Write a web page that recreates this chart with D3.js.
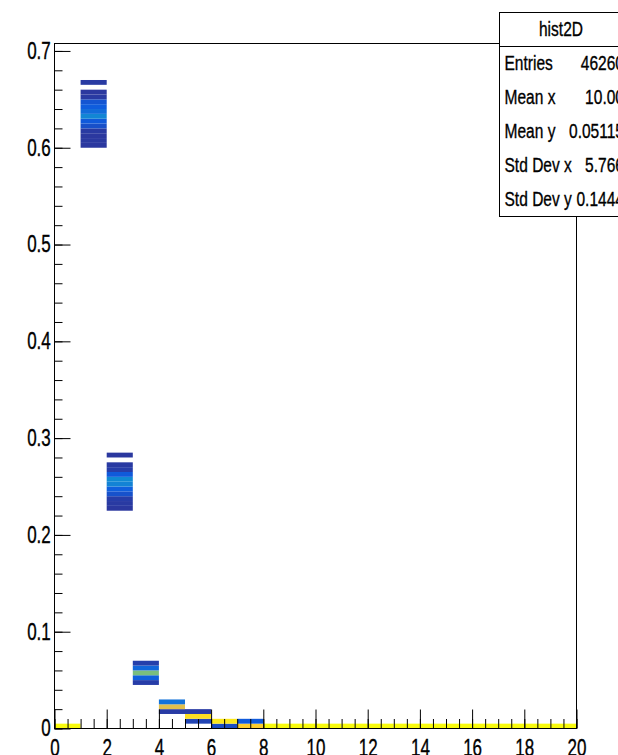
<!DOCTYPE html>
<html>
<head>
<meta charset="utf-8">
<script src="https://cdn.jsdelivr.net/npm/d3@7"></script>
<style>
  body { margin: 0; background: #fff; }
  svg { display: block; font-family: "Liberation Sans", Arial, sans-serif; }
  svg text { stroke: #000; stroke-width: 0.35px; }
</style>
</head>
<body>
<div id="chart"></div>
<script>
// x bins (lower edges), each 1 unit wide
const xLowEdges = [0, 1, 2, 3, 4, 5, 6, 7, 8, 9, 10, 11, 12, 13, 14, 15, 16, 17, 18, 19];
// filled y bins in each x column (lower edges, bin height 0.005) and their counts
const colYLow = [
  [0],
  [0.600, 0.605, 0.610, 0.615, 0.620, 0.625, 0.630, 0.635, 0.640, 0.645, 0.650, 0.655, 0.665],
  [0.225, 0.230, 0.235, 0.240, 0.245, 0.250, 0.255, 0.260, 0.265, 0.270, 0.280],
  [0.045, 0.050, 0.055, 0.060, 0.065],
  [0.015, 0.020, 0.025],
  [0.005, 0.010, 0.015],
  [0, 0.005],
  [0, 0.005],
  [0], [0], [0], [0], [0], [0], [0], [0], [0], [0], [0], [0]
];
const colCounts = [
  [2313],
  [80, 85, 80, 90, 220, 280, 620, 420, 300, 250, 90, 80, 95],
  [80, 90, 110, 230, 320, 600, 650, 280, 110, 90, 80],
  [110, 330, 1400, 380, 120],
  [100, 1830, 460],
  [150, 2150, 100],
  [200, 2200],
  [2050, 280],
  [2313], [2313], [2313], [2313], [2313], [2313], [2313], [2313], [2313], [2313], [2313], [2313]
];
const xBinWidth = 1;
const yBinWidth = 0.005;
const zMax = 2313;

const xTicks = [0, 2, 4, 6, 8, 10, 12, 14, 16, 18, 20];
const yTicks = [0, 0.1, 0.2, 0.3, 0.4, 0.5, 0.6, 0.7];
const yTickLabels = ["0", "0.1", "0.2", "0.3", "0.4", "0.5", "0.6", "0.7"];

const statTitle = "hist2D";
const statNames = ["Entries", "Mean x", "Mean y", "Std Dev x", "Std Dev y"];
const statValues = ["46260", "10.00", "0.05115", "5.766", "0.1444"];

// ROOT kBird palette
const birdStops = [0, 0.125, 0.25, 0.375, 0.5, 0.625, 0.75, 0.875, 1];
const birdColors = [
  [0.2082, 0.1664, 0.5293], [0.0592, 0.3599, 0.8684], [0.0780, 0.5041, 0.8385],
  [0.0232, 0.6419, 0.7914], [0.1802, 0.7178, 0.6425], [0.5301, 0.7492, 0.4662],
  [0.8186, 0.7328, 0.3499], [0.9956, 0.7862, 0.1968], [0.9764, 0.9832, 0.0539]
].map(c => d3.rgb(c[0] * 255, c[1] * 255, c[2] * 255));

const W = 618, H = 755;
const frame = { left: 54.5, right: 576.5, top: 43.5, bottom: 728.5 };
const yMax = 0.7077;
const sx = 0.74; // ROOT's narrow helvetica look

const x = d3.scaleLinear().domain([0, 20]).range([frame.left, frame.right]);
const y = d3.scaleLinear().domain([0, yMax]).range([frame.bottom, frame.top]);
const color = d3.scaleLinear()
  .domain(birdStops.map(s => s * zMax))
  .range(birdColors)
  .interpolate(d3.interpolateRgb)
  .clamp(true);

const cells = [];
xLowEdges.forEach((xl, i) => {
  colYLow[i].forEach((yl, j) => cells.push({ xl, yl, n: colCounts[i][j] }));
});

const svg = d3.select('#chart').append('svg')
  .attr('width', W)
  .attr('height', H);

svg.append('rect').attr('width', W).attr('height', H).attr('fill', '#fff');

svg.append('g').attr('class', 'cells')
  .selectAll('rect').data(cells).enter()
  .append('rect')
    .attr('x', d => x(d.xl))
    .attr('y', d => y(d.yl + yBinWidth))
    .attr('width', d => x(d.xl + xBinWidth) - x(d.xl))
    .attr('height', d => y(d.yl) - y(d.yl + yBinWidth))
    .attr('fill', d => color(d.n));

// axes, ticks pointing into the frame
const yMajor = svg.append('g')
  .attr('transform', `translate(${frame.left},0)`)
  .call(d3.axisLeft(y).tickValues(yTicks).tickSize(-16).tickPadding(5)
    .tickFormat((d, i) => yTickLabels[i]));
svg.append('g')
  .attr('transform', `translate(${frame.left},0)`)
  .call(d3.axisLeft(y).tickValues(d3.range(0, 0.701, 0.02)).tickSize(-8).tickFormat(''));

const xMajor = svg.append('g')
  .attr('transform', `translate(0,${frame.bottom})`)
  .call(d3.axisBottom(x).tickValues(xTicks).tickSize(-19).tickPadding(11));
svg.append('g')
  .attr('transform', `translate(0,${frame.bottom})`)
  .call(d3.axisBottom(x).tickValues(d3.range(0, 20.01, 0.5)).tickSize(-9.5).tickFormat(''));

svg.selectAll('.domain').remove();
svg.selectAll('.tick line').attr('stroke', '#000').attr('stroke-width', 1);
[yMajor, xMajor].forEach(g => g.selectAll('text')
  .attr('fill', '#000')
  .style('font-size', '23px')
  .attr('transform', `scale(${sx},1)`));

svg.append('rect')
  .attr('x', frame.left).attr('y', frame.top)
  .attr('width', frame.right - frame.left)
  .attr('height', frame.bottom - frame.top)
  .attr('fill', 'none').attr('stroke', '#000').attr('stroke-width', 1);

// stats box
const box = { left: 499.5, top: 12.5, right: 640, bottom: 216.5, titleLine: 46.5 };
const stats = svg.append('g').attr('class', 'stats');
stats.append('rect')
  .attr('x', box.left).attr('y', box.top)
  .attr('width', box.right - box.left).attr('height', box.bottom - box.top)
  .attr('fill', '#fff').attr('stroke', '#000').style('stroke-width', 1);
stats.append('line')
  .attr('x1', box.left).attr('x2', box.right)
  .attr('y1', box.titleLine).attr('y2', box.titleLine)
  .attr('stroke', '#000');
stats.append('text')
  .attr('transform', `translate(561,36) scale(${sx},1)`)
  .attr('text-anchor', 'middle')
  .style('font-size', '21px')
  .text(statTitle);

const rowY = d3.scalePoint().domain(statNames).range([70, 206]);
statNames.forEach((name, i) => {
  stats.append('text')
    .attr('transform', `translate(${box.left + 5},${rowY(name)}) scale(${sx},1)`)
    .style('font-size', '21px')
    .text(name);
  stats.append('text')
    .attr('transform', `translate(624,${rowY(name)}) scale(${sx},1)`)
    .attr('text-anchor', 'end')
    .style('font-size', '21px')
    .text(statValues[i]);
});
</script>
</body>
</html>
